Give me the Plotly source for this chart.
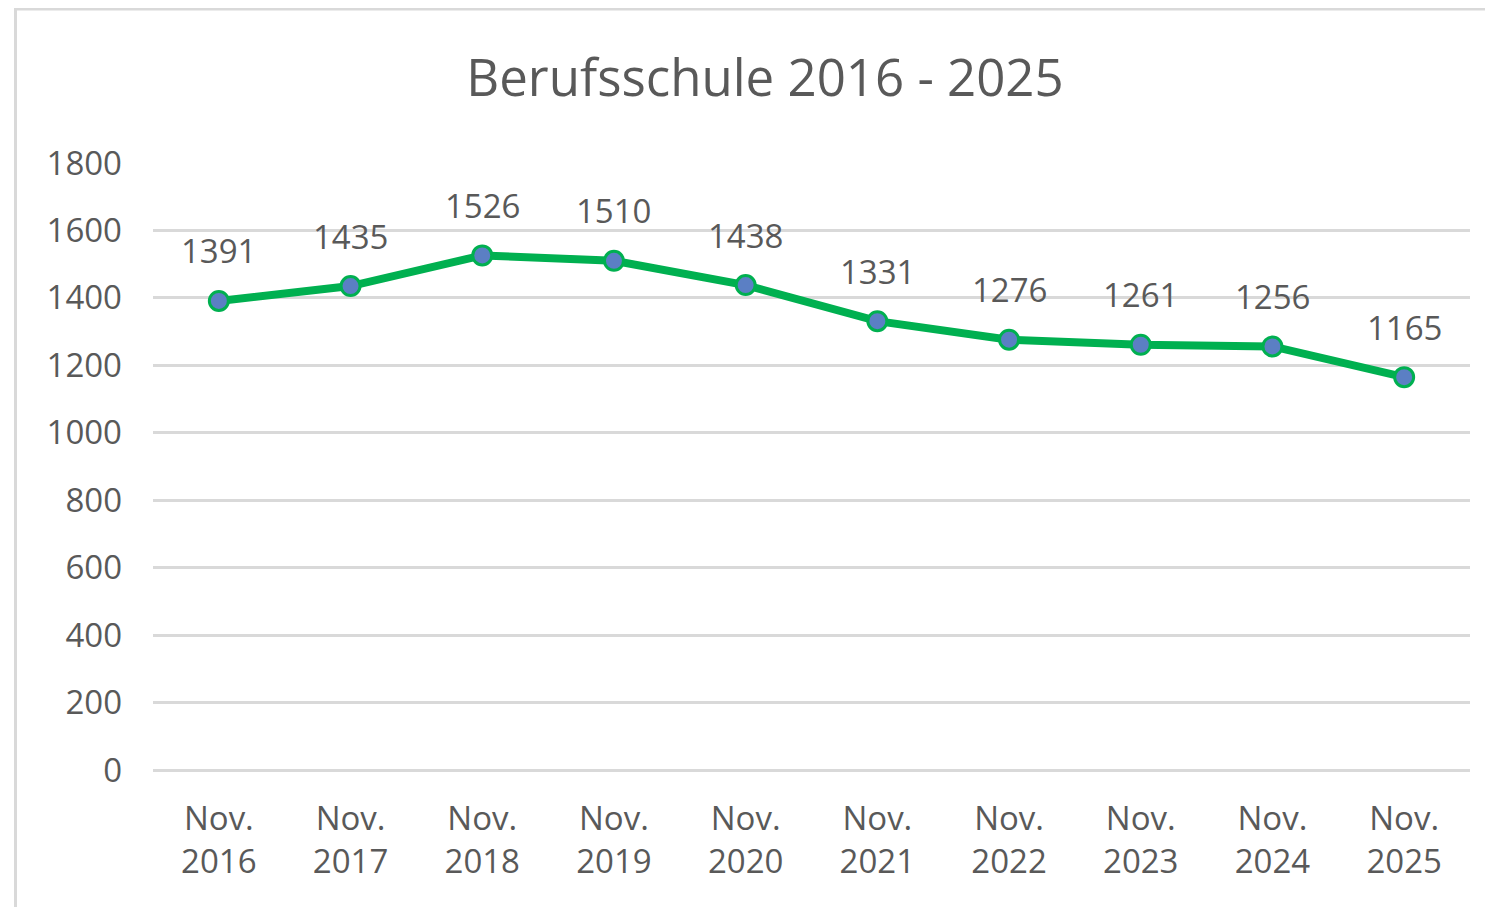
import plotly.graph_objects as go

categories = ["Nov.<br>2016", "Nov.<br>2017", "Nov.<br>2018", "Nov.<br>2019", "Nov.<br>2020",
              "Nov.<br>2021", "Nov.<br>2022", "Nov.<br>2023", "Nov.<br>2024", "Nov.<br>2025"]
values = [1391, 1435, 1526, 1510, 1438, 1331, 1276, 1261, 1256, 1165]
y_ticks = [0, 200, 400, 600, 800, 1000, 1200, 1400, 1600, 1800]

FONT = "Open Sans"
GREY = "#595959"
GRID = "#d9d9d9"

fig = go.Figure()
fig.add_trace(go.Scatter(
    x=categories, y=values, mode="lines+markers",
    line=dict(color="#00B050", width=8),
    marker=dict(size=19, color="#5B7FC4", line=dict(color="#00B050", width=3)),
    showlegend=False, hoverinfo="skip",
))

for c, v in zip(categories, values):
    fig.add_annotation(x=c, y=v, text=str(v), showarrow=False, yshift=50,
                       font=dict(family=FONT, size=33, color=GREY))

fig.add_shape(type="path", xref="paper", yref="paper",
              path="M -0.1044,-0.5 L -0.1044,1.2537 L 1.2,1.2537",
              line=dict(color=GRID, width=3), layer="above")

fig.update_layout(
    width=1485, height=899,
    margin=dict(l=145, r=23, t=155, b=137),
    paper_bgcolor="white", plot_bgcolor="white",
    title=dict(text="Berufsschule 2016 - 2025", x=757/1485, xanchor="center",
               y=1-70/899, yanchor="middle", yref="container",
               font=dict(family=FONT, size=51, color=GREY)),
    xaxis=dict(type="category", range=[-0.5, 9.5], showgrid=False, showline=False,
               zeroline=False, tickfont=dict(family=FONT, size=33, color=GREY),
               ticklabelstandoff=26),
    yaxis=dict(range=[0, 1800], tickvals=y_ticks, showgrid=True, gridcolor=GRID,
               gridwidth=3, zeroline=True, zerolinecolor=GRID, zerolinewidth=3,
               showline=False, tickfont=dict(family=FONT, size=33, color=GREY),
               ticklabelstandoff=30),
)

fig.write_html("out.html")
